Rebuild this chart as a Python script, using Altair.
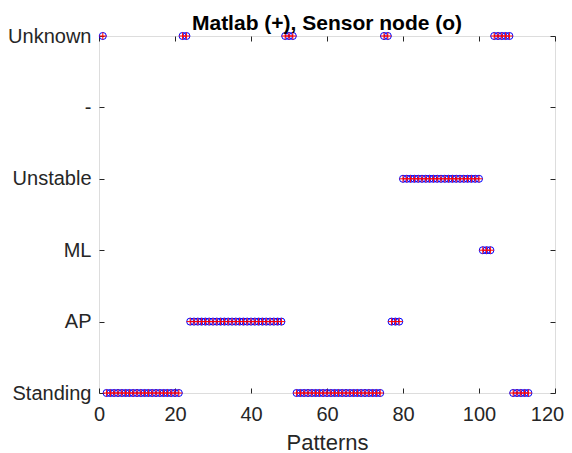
import altair as alt
import pandas as pd

categories = ["Standing", "AP", "ML", "Unstable", "-", "Unknown"]

patterns = list(range(1, 114))

# class index per pattern (0=Standing, 1=AP, 2=ML, 3=Unstable, 4='-', 5=Unknown)
matlab_class = [
    5,
    0, 0, 0, 0, 0, 0, 0, 0, 0, 0, 0, 0, 0, 0, 0, 0, 0, 0, 0, 0,
    5, 5,
    1, 1, 1, 1, 1, 1, 1, 1, 1, 1, 1, 1, 1, 1, 1, 1, 1, 1, 1, 1, 1, 1, 1, 1, 1,
    5, 5, 5,
    0, 0, 0, 0, 0, 0, 0, 0, 0, 0, 0, 0, 0, 0, 0, 0, 0, 0, 0, 0, 0, 0, 0,
    5, 5,
    1, 1, 1,
    3, 3, 3, 3, 3, 3, 3, 3, 3, 3, 3, 3, 3, 3, 3, 3, 3, 3, 3, 3, 3,
    2, 2, 2,
    5, 5, 5, 5, 5,
    0, 0, 0, 0, 0,
]
sensor_class = [
    5,
    0, 0, 0, 0, 0, 0, 0, 0, 0, 0, 0, 0, 0, 0, 0, 0, 0, 0, 0, 0,
    5, 5,
    1, 1, 1, 1, 1, 1, 1, 1, 1, 1, 1, 1, 1, 1, 1, 1, 1, 1, 1, 1, 1, 1, 1, 1, 1,
    5, 5, 5,
    0, 0, 0, 0, 0, 0, 0, 0, 0, 0, 0, 0, 0, 0, 0, 0, 0, 0, 0, 0, 0, 0, 0,
    5, 5,
    1, 1, 1,
    3, 3, 3, 3, 3, 3, 3, 3, 3, 3, 3, 3, 3, 3, 3, 3, 3, 3, 3, 3, 3,
    2, 2, 2,
    5, 5, 5, 5, 5,
    0, 0, 0, 0, 0,
]

x_ticks = [0, 20, 40, 60, 80, 100, 120]

df_sensor = pd.DataFrame({"pattern": patterns, "cls": [categories[c] for c in sensor_class]})
df_matlab = pd.DataFrame({"pattern": patterns, "cls": [categories[c] for c in matlab_class]})

FONT = "Liberation Sans"
y_domain = list(reversed(categories))

x_scale = alt.Scale(domain=[0, 120], nice=False, zero=False)
y_scale = alt.Scale(type="point", domain=y_domain, padding=0)

last_label_shift = {"condition": {"test": "datum.value == 120", "value": -8}, "value": 0}

circles = alt.Chart(df_sensor).mark_point(
    shape="circle", filled=False, color="#0000FF", strokeWidth=1, size=50, opacity=1
).encode(
    x=alt.X("pattern:Q", scale=x_scale,
            axis=alt.Axis(orient="bottom", values=x_ticks, offset=-5, tickSize=5,
                          domain=False, grid=False, labelPadding=11, title="Patterns",
                          titlePadding=8, labelFontSize=20, titleFontSize=22,
                          labelFlush=False, labelOverlap=False, labelBound=False,
                          labelOffset=last_label_shift,
                          titleFontWeight="normal", labelFont=FONT, titleFont=FONT,
                          labelColor="#262626", titleColor="#262626", tickColor="#262626")),
    y=alt.Y("cls:N", scale=y_scale,
            axis=alt.Axis(orient="left", offset=-5, tickSize=5, domain=False, grid=False,
                          labelPadding=8, title=None, labelFontSize=20, labelFont=FONT,
                          labelColor="#262626", tickColor="#262626")),
)

pluses = alt.Chart(df_matlab).mark_point(
    shape="M-1,0L1,0M0,-1L0,1", filled=False, color="#FF0000", strokeWidth=1, size=50, opacity=1
).encode(
    x=alt.X("pattern:Q", scale=x_scale,
            axis=alt.Axis(orient="top", values=x_ticks, offset=-5, tickSize=5,
                          domain=False, grid=False, labels=False, title=None,
                          tickColor="#262626")),
    y=alt.Y("cls:N", scale=y_scale,
            axis=alt.Axis(orient="right", offset=-5, tickSize=5, domain=False, grid=False,
                          labels=False, title=None, tickColor="#262626")),
)

chart = alt.layer(circles, pluses).resolve_axis(
    x="independent", y="independent"
).properties(
    width=456,
    height=357,
    title=alt.TitleParams("Matlab (+), Sensor node (o)", font=FONT, fontSize=21,
                          fontWeight="bold", color="black", offset=-8, anchor="middle"),
    autosize=alt.AutoSizeParams(type="none"),
    padding={"left": 91, "top": 28, "right": 9, "bottom": 62},
).configure_view(
    stroke="#262626", strokeWidth=1
).configure(background="white")

chart.save("out.html", embed_options={"renderer": "svg", "actions": False})
